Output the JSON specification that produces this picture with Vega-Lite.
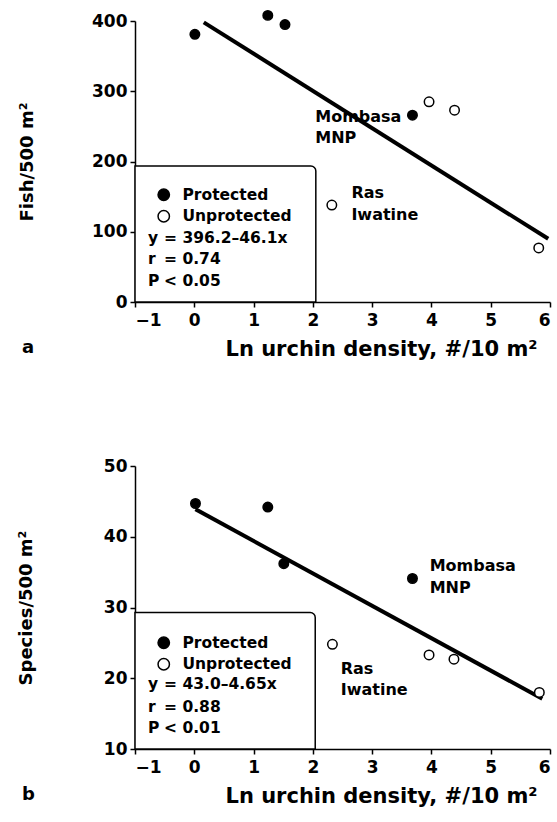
{
  "$schema": "https://vega.github.io/schema/vega-lite/v6.json",
  "padding": {"left": 17, "top": 7, "right": 2, "bottom": 2},
  "background": "white",
  "spacing": 98,
  "config": {
    "view": {"stroke": null},
    "font": "DejaVu Sans",
    "axis": {
      "domainColor": "black", "domainWidth": 1.5, "tickColor": "black", "tickWidth": 1.5, "tickSize": 5,
      "labelFont": "DejaVu Sans", "labelFontWeight": "bold", "labelFontSize": 17, "labelColor": "black",
      "titleFont": "DejaVu Sans", "titleFontWeight": "bold", "titleColor": "black", "grid": false, "zindex": 1
    },
    "legend": {
      "symbolType": "circle", "symbolSize": 130, "symbolStrokeColor": "black", "symbolStrokeWidth": 1.5,
      "symbolOpacity": 1, "labelFont": "DejaVu Sans", "labelFontWeight": "bold", "labelFontSize": 15.5,
      "labelColor": "black", "labelOffset": 11, "rowPadding": 3.5
    }
  },
  "resolve": {"scale": {"fill": "independent"}, "legend": {"fill": "independent"}},
  "datasets": {
    "boxA": [{"x": -1, "x2": 2.05, "y": 0, "y2": 193.5}],
    "lineA": [{"x": 0.16, "y": 398}, {"x": 5.97, "y": 90}],
    "fishA": [
      {"x": 0.01, "y": 381, "status": "Protected"},
      {"x": 1.24, "y": 408, "status": "Protected"},
      {"x": 1.53, "y": 395, "status": "Protected"},
      {"x": 3.68, "y": 266, "status": "Protected"},
      {"x": 2.32, "y": 138, "status": "Unprotected"},
      {"x": 3.96, "y": 285, "status": "Unprotected"},
      {"x": 4.39, "y": 273, "status": "Unprotected"},
      {"x": 5.81, "y": 77, "status": "Unprotected"}
    ],
    "statsA": [
      {"x": -0.78, "y": 91.5, "t": "y"}, {"x": -0.51, "y": 91.5, "t": "= 396.2–46.1x"},
      {"x": -0.78, "y": 60.6, "t": "r"}, {"x": -0.51, "y": 60.6, "t": "= 0.74"},
      {"x": -0.78, "y": 29.5, "t": "P"}, {"x": -0.51, "y": 29.5, "t": "< 0.05"}
    ],
    "notesA": [
      {"x": 2.04, "y": 263, "t": "Mombasa"}, {"x": 2.04, "y": 234, "t": "MNP"},
      {"x": 2.65, "y": 155, "t": "Ras"}, {"x": 2.65, "y": 124, "t": "Iwatine"}
    ],
    "boxB": [{"x": -1, "x2": 2.04, "y": 10, "y2": 29.3}],
    "lineB": [{"x": 0.02, "y": 43.9}, {"x": 5.87, "y": 17.1}],
    "fishB": [
      {"x": 0.02, "y": 44.7, "status": "Protected"},
      {"x": 1.24, "y": 44.2, "status": "Protected"},
      {"x": 1.51, "y": 36.2, "status": "Protected"},
      {"x": 3.68, "y": 34.1, "status": "Protected"},
      {"x": 2.33, "y": 24.8, "status": "Unprotected"},
      {"x": 3.96, "y": 23.3, "status": "Unprotected"},
      {"x": 4.38, "y": 22.7, "status": "Unprotected"},
      {"x": 5.82, "y": 18.0, "status": "Unprotected"}
    ],
    "statsB": [
      {"x": -0.78, "y": 19.2, "t": "y"}, {"x": -0.51, "y": 19.2, "t": "= 43.0–4.65x"},
      {"x": -0.78, "y": 16.0, "t": "r"}, {"x": -0.51, "y": 16.0, "t": "= 0.88"},
      {"x": -0.78, "y": 12.9, "t": "P"}, {"x": -0.51, "y": 12.9, "t": "< 0.01"}
    ],
    "notesB": [
      {"x": 3.97, "y": 35.8, "t": "Mombasa"}, {"x": 3.97, "y": 32.8, "t": "MNP"},
      {"x": 2.47, "y": 21.3, "t": "Ras"}, {"x": 2.47, "y": 18.3, "t": "Iwatine"}
    ]
  },
  "vconcat": [
    {
      "width": 415, "height": 281,
      "title": {"text": "a", "orient": "bottom", "anchor": "start", "frame": "group", "dx": -113, "offset": -20,
                "font": "DejaVu Sans", "fontSize": 18, "fontWeight": "bold", "color": "black"},
      "encoding": {
        "x": {"field": "x", "type": "quantitative",
              "scale": {"domain": [-1, 6], "nice": false, "zero": false},
              "axis": {"values": [-1, 0, 1, 2, 3, 4, 5, 6], "labelPadding": 5, "title": "Ln urchin density, #/10 m²",
                       "titleFontSize": 21, "titlePadding": 10, "titleX": 246}},
        "y": {"field": "y", "type": "quantitative",
              "scale": {"domain": [0, 400], "nice": false, "zero": false},
              "axis": {"values": [0, 100, 200, 300, 400], "labelPadding": 3, "title": "Fish/500 m²",
                       "titleFontSize": 18, "titlePadding": 55.5}}
      },
      "layer": [
        {"data": {"name": "boxA"}, "mark": {"type": "rect", "fill": "white", "stroke": "black", "strokeWidth": 1.5, "cornerRadiusTopRight": 5},
         "encoding": {"x2": {"field": "x2"}, "y2": {"field": "y2"}}},
        {"data": {"name": "lineA"}, "mark": {"type": "line", "color": "black", "strokeWidth": 4}},
        {"data": {"name": "fishA"}, "mark": {"type": "point", "filled": true, "shape": "circle", "size": 90, "stroke": "black", "strokeWidth": 1.5, "opacity": 1},
         "encoding": {"fill": {"field": "status", "type": "nominal",
                               "scale": {"domain": ["Protected", "Unprotected"], "range": ["black", "white"]},
                               "legend": {"orient": "none", "legendX": 21, "legendY": 166, "title": null}}}},
        {"data": {"name": "statsA"}, "mark": {"type": "text", "align": "left", "baseline": "middle", "fontSize": 15.5, "fontWeight": "bold", "font": "DejaVu Sans", "color": "black"},
         "encoding": {"text": {"field": "t"}}},
        {"data": {"name": "notesA"}, "mark": {"type": "text", "align": "left", "baseline": "middle", "fontSize": 16, "fontWeight": "bold", "font": "DejaVu Sans", "color": "black"},
         "encoding": {"text": {"field": "t"}}}
      ]
    },
    {
      "width": 415, "height": 283,
      "title": {"text": "b", "orient": "bottom", "anchor": "start", "frame": "group", "dx": -113, "offset": -20,
                "font": "DejaVu Sans", "fontSize": 18, "fontWeight": "bold", "color": "black"},
      "encoding": {
        "x": {"field": "x", "type": "quantitative",
              "scale": {"domain": [-1, 6], "nice": false, "zero": false},
              "axis": {"values": [-1, 0, 1, 2, 3, 4, 5, 6], "labelPadding": 5, "title": "Ln urchin density, #/10 m²",
                       "titleFontSize": 21, "titlePadding": 10, "titleX": 246}},
        "y": {"field": "y", "type": "quantitative",
              "scale": {"domain": [10, 50], "nice": false, "zero": false},
              "axis": {"values": [10, 20, 30, 40, 50], "labelPadding": 3, "title": "Species/500 m²",
                       "titleFontSize": 18, "titlePadding": 67.5}}
      },
      "layer": [
        {"data": {"name": "boxB"}, "mark": {"type": "rect", "fill": "white", "stroke": "black", "strokeWidth": 1.5, "cornerRadiusTopRight": 5},
         "encoding": {"x2": {"field": "x2"}, "y2": {"field": "y2"}}},
        {"data": {"name": "lineB"}, "mark": {"type": "line", "color": "black", "strokeWidth": 4}},
        {"data": {"name": "fishB"}, "mark": {"type": "point", "filled": true, "shape": "circle", "size": 90, "stroke": "black", "strokeWidth": 1.5, "opacity": 1},
         "encoding": {"fill": {"field": "status", "type": "nominal",
                               "scale": {"domain": ["Protected", "Unprotected"], "range": ["black", "white"]},
                               "legend": {"orient": "none", "legendX": 21, "legendY": 169, "title": null}}}},
        {"data": {"name": "statsB"}, "mark": {"type": "text", "align": "left", "baseline": "middle", "fontSize": 15.5, "fontWeight": "bold", "font": "DejaVu Sans", "color": "black"},
         "encoding": {"text": {"field": "t"}}},
        {"data": {"name": "notesB"}, "mark": {"type": "text", "align": "left", "baseline": "middle", "fontSize": 16, "fontWeight": "bold", "font": "DejaVu Sans", "color": "black"},
         "encoding": {"text": {"field": "t"}}}
      ]
    }
  ]
}
